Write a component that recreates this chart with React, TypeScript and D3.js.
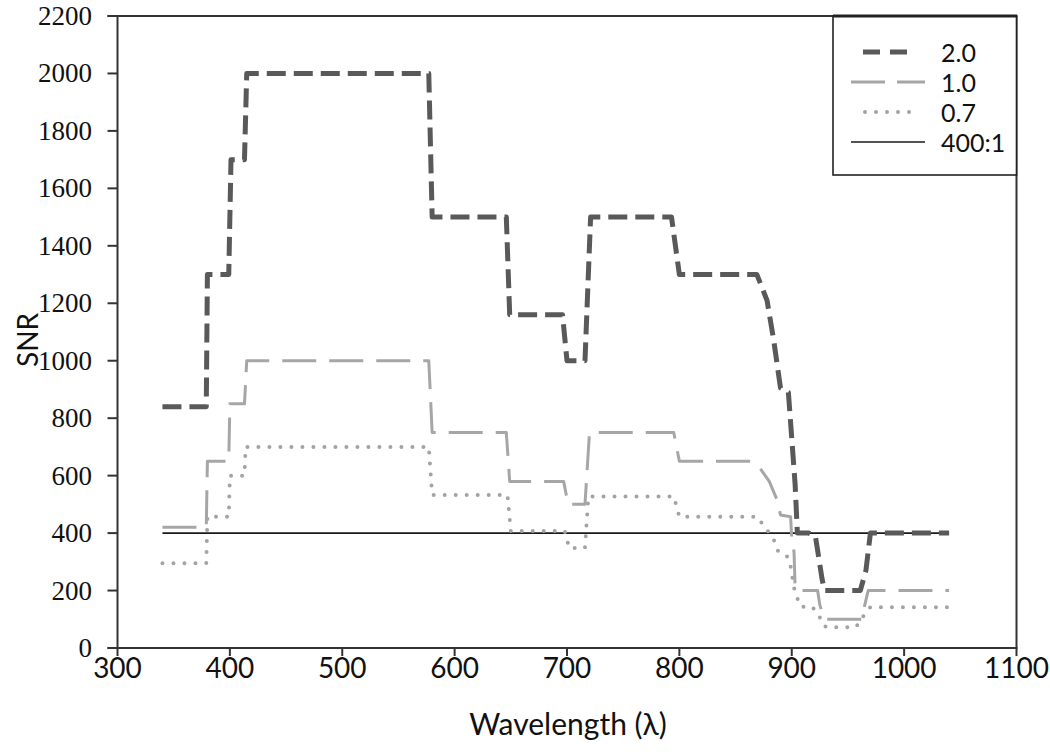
import React from "react";
import * as d3 from "d3";

const xTicks = [300, 400, 500, 600, 700, 800, 900, 1000, 1100];
const yTicks = [0, 200, 400, 600, 800, 1000, 1200, 1400, 1600, 1800, 2000, 2200];

const series20: [number, number][] = [
  [340, 840], [379, 840], [380, 1300], [399, 1300], [401, 1700], [413, 1700], [415, 2000],
  [577, 2000], [580, 1500], [646, 1500], [649, 1160], [696, 1160], [700, 1000], [716, 1000],
  [721, 1500], [793, 1500], [800, 1300], [869, 1300], [878, 1210], [884, 1070], [890, 905],
  [897, 890], [903, 570], [905, 400], [915, 400], [921, 390], [927, 240], [929, 200],
  [961, 200], [966, 270], [970, 400], [1040, 400],
];

const series10: [number, number][] = [
  [340, 420], [379, 420], [380, 650], [393, 650], [399, 650], [400, 850], [413, 850], [415, 1000],
  [577, 1000], [580, 750], [646, 750], [649, 580], [697, 580], [701, 500], [716, 500],
  [720, 750], [795, 750], [800, 650], [863, 650], [871, 630], [880, 580], [887, 515],
  [890, 463], [899, 457], [900, 380], [902, 335], [903, 213], [905, 200], [923, 200],
  [925, 150], [928, 110], [930, 100], [962, 100], [965, 150], [968, 200], [1040, 200],
];

const series07: [number, number][] = [
  [340, 295], [379, 295], [380, 457], [399, 457], [400, 600], [413, 600], [414, 700],
  [577, 700], [580, 533], [647, 533], [650, 407], [698, 407], [702, 348], [716, 348],
  [719, 527], [795, 527], [800, 457], [869, 457], [878, 411], [885, 370], [888, 335],
  [896, 318], [899, 283], [902, 210], [905, 173], [908, 144], [918, 144], [924, 115],
  [928, 80], [931, 72], [957, 72], [962, 100], [966, 126], [970, 142], [1040, 142],
];

const ratioLine: [number, number][] = [[340, 400], [1040, 400]];

const legendLabels = ["2.0", "1.0", "0.7", "400:1"];

const W = 1050;
const H = 752;
const L = 117.5;
const R = 1016.5;
const T = 16;
const B = 648;

export default function App() {
  const x = d3.scaleLinear().domain([300, 1100]).range([L, R]);
  const y = d3.scaleLinear().domain([0, 2200]).range([B, T]);
  const line = d3
    .line<[number, number]>()
    .x((d) => x(d[0]))
    .y((d) => y(d[1]));

  const styles = [
    { stroke: "#595959", width: 5, dash: "19 8", cap: "butt" },
    { stroke: "#a6a6a6", width: 3, dash: "34 13", cap: "butt" },
    { stroke: "#a3a3a3", width: 4, dash: "0 11", cap: "round" },
    { stroke: "#1a1a1a", width: 1.6, dash: "none", cap: "butt" },
  ];
  const data = [series20, series10, series07, ratioLine];
  const drawOrder = [3, 2, 1, 0];

  const sans = "Lato, 'Open Sans', sans-serif";
  const serifF = "'Times New Roman', 'Liberation Serif', serif";

  return (
    <svg
      width={W}
      height={H}
      style={{ position: "absolute", left: 0, top: 0, background: "#fff" }}
    >
      {drawOrder.map((i) => (
        <path
          key={i}
          d={line(data[i]) || ""}
          fill="none"
          stroke={styles[i].stroke}
          strokeWidth={styles[i].width}
          strokeDasharray={styles[i].dash}
          strokeLinecap={styles[i].cap as any}
          strokeLinejoin="round"
        />
      ))}

      <line x1={L - 10} x2={R + 1} y1={T} y2={T} stroke="#333" strokeWidth={2.2} />
      <line x1={R} x2={R} y1={T} y2={B} stroke="#333" strokeWidth={2} />
      <line x1={L} x2={L} y1={T} y2={B} stroke="#333" strokeWidth={2} />
      <line x1={L - 10} x2={R + 1} y1={B} y2={B} stroke="#333" strokeWidth={2.2} />

      {yTicks.map((t) => (
        <g key={"y" + t}>
          <line x1={L - 10} x2={L} y1={y(t)} y2={y(t)} stroke="#333" strokeWidth={2} />
          <text
            x={92}
            y={y(t)}
            textAnchor="end"
            dominantBaseline="central"
            fontFamily={serifF}
            fontSize={27}
            fill="#111"
          >
            {t}
          </text>
        </g>
      ))}

      {xTicks.map((t) => (
        <g key={"x" + t}>
          <line x1={x(t)} x2={x(t)} y1={B} y2={B + 8} stroke="#333" strokeWidth={2} />
          <text
            x={x(t)}
            y={667}
            textAnchor="middle"
            dominantBaseline="central"
            fontFamily={sans}
            fontSize={28}
            fill="#111"
          >
            {t}
          </text>
        </g>
      ))}

      <text
        x={568}
        y={723}
        textAnchor="middle"
        dominantBaseline="central"
        fontFamily={sans}
        fontSize={30}
        fill="#111"
      >
        Wavelength (λ)
      </text>
      <text
        transform="translate(27,340) rotate(-90)"
        textAnchor="middle"
        dominantBaseline="central"
        fontFamily={sans}
        fontSize={28}
        fill="#111"
      >
        SNR
      </text>

      <rect x={833} y={16} width={183.5} height={159} fill="#fff" stroke="#222" strokeWidth={1.6} />
      <line x1={833} x2={1017} y1={16} y2={16} stroke="#222" strokeWidth={3} />
      {legendLabels.map((lab, i) => {
        const ly = 52 + i * 30;
        const st = styles[i];
        const x1 = i === 0 ? 863 : 851;
        const x2 = i === 0 ? 907 : 925;
        return (
          <g key={lab}>
            <line
              x1={i === 2 ? 865 : x1}
              x2={i === 2 ? 910 : x2}
              y1={ly}
              y2={ly}
              stroke={st.stroke}
              strokeWidth={st.width}
              strokeDasharray={i === 0 ? "17 10" : i === 1 ? "34 12" : st.dash}
              strokeLinecap={st.cap as any}
            />
            <text
              x={941}
              y={ly}
              dominantBaseline="central"
              fontFamily={sans}
              fontSize={25}
              fill="#111"
            >
              {lab}
            </text>
          </g>
        );
      })}
    </svg>
  );
}
